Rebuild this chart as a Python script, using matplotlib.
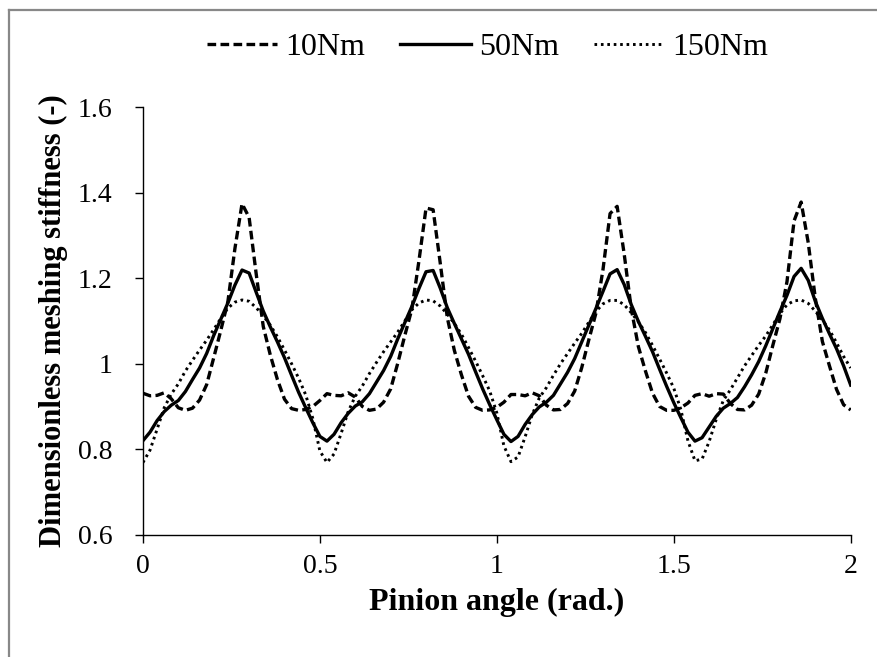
import numpy as np
import matplotlib.pyplot as plt
from matplotlib.lines import Line2D

# pinion angle (rad.), sampled every 0.02
angle = np.linspace(0, 2, 101)

stiff_10 = [0.931, 0.925, 0.926, 0.932, 0.918, 0.897, 0.891, 0.896, 0.915, 0.951,
            1.014, 1.078, 1.145, 1.270, 1.374, 1.342, 1.210, 1.087, 1.020, 0.963,
            0.917, 0.895, 0.891, 0.893, 0.900, 0.914, 0.930, 0.926, 0.925, 0.932,
            0.922, 0.900, 0.891, 0.894, 0.910, 0.941, 1.001, 1.066, 1.128, 1.241,
            1.364, 1.360, 1.236, 1.108, 1.031, 0.974, 0.924, 0.898, 0.891, 0.892,
            0.898, 0.910, 0.928, 0.928, 0.925, 0.932, 0.925, 0.903, 0.892, 0.893,
            0.907, 0.936, 0.991, 1.056, 1.118, 1.220, 1.351, 1.368, 1.256, 1.128,
            1.040, 0.983, 0.931, 0.900, 0.891, 0.891, 0.897, 0.908, 0.926, 0.930,
            0.924, 0.930, 0.929, 0.907, 0.893, 0.892, 0.903, 0.929, 0.978, 1.043,
            1.105, 1.192, 1.334, 1.378, 1.283, 1.153, 1.052, 0.995, 0.940, 0.904,
            0.892]

stiff_50 = [0.820, 0.840, 0.867, 0.888, 0.903, 0.914, 0.935, 0.963, 0.990, 1.024,
            1.066, 1.104, 1.142, 1.184, 1.219, 1.212, 1.167, 1.123, 1.086, 1.051,
            1.014, 0.973, 0.933, 0.897, 0.862, 0.830, 0.819, 0.835, 0.862, 0.884,
            0.901, 0.911, 0.930, 0.957, 0.984, 1.017, 1.058, 1.096, 1.134, 1.176,
            1.215, 1.218, 1.177, 1.131, 1.094, 1.058, 1.022, 0.981, 0.941, 0.904,
            0.869, 0.835, 0.818, 0.830, 0.858, 0.881, 0.899, 0.910, 0.926, 0.953,
            0.980, 1.012, 1.051, 1.090, 1.129, 1.169, 1.210, 1.220, 1.185, 1.138,
            1.099, 1.064, 1.028, 0.987, 0.947, 0.909, 0.874, 0.840, 0.819, 0.827,
            0.852, 0.877, 0.896, 0.907, 0.921, 0.946, 0.974, 1.005, 1.042, 1.082,
            1.122, 1.160, 1.204, 1.223, 1.195, 1.146, 1.106, 1.070, 1.035, 0.995,
            0.950]

stiff_150 = [0.769, 0.798, 0.847, 0.897, 0.929, 0.953, 0.983, 1.008, 1.032, 1.055,
             1.080, 1.106, 1.130, 1.144, 1.149, 1.146, 1.131, 1.112, 1.090, 1.063,
             1.032, 1.000, 0.966, 0.927, 0.872, 0.796, 0.769, 0.789, 0.837, 0.888,
             0.924, 0.948, 0.977, 1.003, 1.028, 1.051, 1.074, 1.100, 1.126, 1.142,
             1.149, 1.147, 1.135, 1.116, 1.094, 1.069, 1.038, 1.006, 0.972, 0.936,
             0.885, 0.808, 0.771, 0.782, 0.829, 0.881, 0.920, 0.944, 0.973, 1.000,
             1.024, 1.048, 1.071, 1.097, 1.122, 1.140, 1.148, 1.148, 1.138, 1.119,
             1.098, 1.073, 1.043, 1.011, 0.978, 0.943, 0.893, 0.820, 0.773, 0.777,
             0.818, 0.870, 0.914, 0.939, 0.967, 0.995, 1.019, 1.043, 1.065, 1.091,
             1.117, 1.138, 1.147, 1.149, 1.141, 1.123, 1.102, 1.079, 1.049, 1.017,
             0.990]

labels = ['10Nm', '50Nm', '150Nm']
x_ticks = [0, 0.5, 1, 1.5, 2]
y_ticks = [0.6, 0.8, 1.0, 1.2, 1.4, 1.6]
y_tick_labels = ['0.6', '0.8', '1', '1.2', '1.4', '1.6']

plt.rcParams['font.family'] = ['Liberation Serif', 'DejaVu Serif']

fig = plt.figure(figsize=(8.77, 6.57), dpi=100)
ax = fig.add_axes([0.163, 0.186, 0.807, 0.651])

ax.plot(angle, stiff_10, color='black', lw=2.4, linestyle=(0, (2.6, 1.3)), label=labels[0])
ax.plot(angle, stiff_50, color='black', lw=2.4, label=labels[1])
ax.plot(angle, stiff_150, color='black', lw=2.1, linestyle=(0, (0.9, 1.3)), label=labels[2])

ax.set_xlim(0, 2)
ax.set_ylim(0.6, 1.6)
ax.set_xticks(x_ticks)
ax.set_xticklabels(['0', '0.5', '1', '1.5', '2'])
ax.set_yticks(y_ticks)
ax.set_yticklabels(y_tick_labels)
ax.tick_params(direction='out', length=6, width=1, labelsize=20)
ax.tick_params(axis='x', pad=8)
ax.tick_params(axis='y', pad=16)
for side in ['top', 'right']:
    ax.spines[side].set_visible(False)
for side in ['left', 'bottom']:
    ax.spines[side].set_linewidth(1)

ax.set_xlabel('Pinion angle (rad.)', fontsize=23, fontweight='bold', labelpad=6)
ax.set_ylabel('Dimensionless meshing stiffness (-)', fontsize=22, fontweight='bold')
ax.yaxis.set_label_coords(-0.106, 0.5)

fig.legend(loc='center', bbox_to_anchor=(0.556, 0.928), ncol=3, frameon=False,
           fontsize=23, handlelength=2.2, handletextpad=0.25, columnspacing=1.1)

# grey frame around the chart area
fig.add_artist(Line2D([8.5 / 877, 1], [1 - 10 / 657, 1 - 10 / 657], color='#888888', lw=1.6))
fig.add_artist(Line2D([8.5 / 877, 8.5 / 877], [0, 1 - 10 / 657], color='#888888', lw=1.6))

fig.savefig('out.png', dpi=100)
